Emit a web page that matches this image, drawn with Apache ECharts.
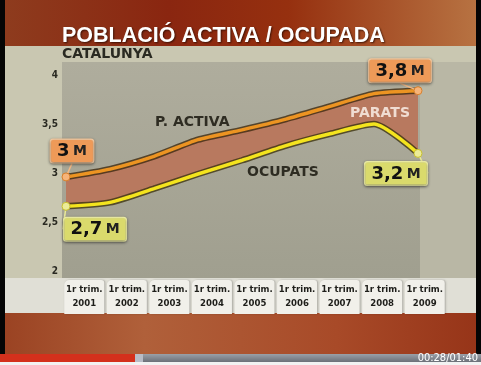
<!DOCTYPE html>
<html><head><meta charset="utf-8">
<script src="https://cdn.jsdelivr.net/npm/echarts@6/dist/echarts.min.js"></script>
<style>html,body{margin:0;padding:0;background:#000;}#c{width:481px;height:365px;}</style>
</head><body><div id="c"></div>
<script>
const categories = ['2001','2002','2003','2004','2005','2006','2007','2008','2009'];
const tabPrefix = '1r trim.';
const activa  = [2.96, 3.04, 3.17, 3.34, 3.44, 3.55, 3.68, 3.81, 3.84];
const ocupats = [2.66, 2.70, 2.84, 2.99, 3.13, 3.28, 3.40, 3.50, 3.20];
const activaEndLabels  = ['3', '3,8'];
const ocupatsEndLabels = ['2,7', '3,2'];
const yTickLabels = {'2':'2','2.5':'2,5','3':'3','3.5':'3,5','4':'4'};

const parats = activa.map((v,i)=> +(v - ocupats[i]).toFixed(3));
const last = categories.length - 1;

function endItems(arr, labels, style){
  return arr.map((v,i)=>{
    if (i === 0 || i === last) {
      const k = i === 0 ? 0 : 1;
      return { value: v, label: { show: true, formatter: '{n|' + labels[k] + '} {m|M}',
        backgroundColor: style.bg, borderColor: style.border, borderWidth: 1.5, borderRadius: 2,
        padding: [1,6,0,6], shadowBlur: 3, shadowColor: 'rgba(0,0,0,0.45)', shadowOffsetY: 1,
        rich: { n: {fontFamily:'DejaVu Sans', fontWeight:'bold', fontSize:18, color:'#111', lineHeight:21},
                m: {fontFamily:'DejaVu Sans', fontWeight:'bold', fontSize:14, color:'#222', lineHeight:21} } } };
    }
    return { value: v };
  });
}
const smoothK = 0.22;
const chart = echarts.init(document.getElementById('c'), null, {renderer:'canvas'});
const offs = { '3_0':[6,-26], '3_8':[-18,-20], '5_0':[29,23], '5_8':[-22,20] };
chart.setOption({
  animation: false,
  backgroundColor: 'transparent',
  graphic: [
    {type:'rect', z:-10, shape:{x:0,y:0,width:481,height:47}, style:{fill:new echarts.graphic.LinearGradient(0,0,1,0,[{offset:0,color:'#8e3c1e'},{offset:0.35,color:'#8a2610'},{offset:0.6,color:'#96300f'},{offset:1,color:'#b87443'}])}},
    {type:'rect', z:-10, shape:{x:0,y:46,width:481,height:233}, style:{fill:'#c9c7b1'}},
    {type:'rect', z:-9, shape:{x:62,y:62,width:358,height:216}, style:{fill:new echarts.graphic.LinearGradient(0,0,0,1,[{offset:0,color:'#afad9d'},{offset:1,color:'#a09f8f'}])}},
    {type:'rect', z:-9, shape:{x:420,y:62,width:56,height:216}, style:{fill:'#b9b7a5'}},
    {type:'rect', z:-10, shape:{x:0,y:278,width:481,height:35}, style:{fill:'#e0dfd6'}},
    {type:'rect', z:-10, shape:{x:0,y:313,width:481,height:41}, style:{fill:new echarts.graphic.LinearGradient(0,0,1,0,[{offset:0,color:'#9a4222'},{offset:0.3,color:'#b0603a'},{offset:0.7,color:'#a84a28'},{offset:1,color:'#963418'}])}},
    {type:'rect', z:-10, shape:{x:0,y:354,width:481,height:8}, style:{fill:new echarts.graphic.LinearGradient(0,0,0,1,[{offset:0,color:'#9aa0a8'},{offset:1,color:'#6c7078'}])}},
    {type:'rect', z:-9, shape:{x:0,y:354,width:135,height:8}, style:{fill:'#d4301c'}},
    {type:'rect', z:-9, shape:{x:135,y:354,width:8,height:8}, style:{fill:'#b8bcc6'}},
    {type:'rect', z:-10, shape:{x:0,y:362,width:481,height:3}, style:{fill:'#f2f2f2'}},
    {type:'rect', z:-8, shape:{x:0,y:0,width:5,height:354}, style:{fill:'#050505'}},
    {type:'rect', z:-8, shape:{x:476,y:0,width:5,height:354}, style:{fill:'#050505'}},
    {type:'text', z:5, left:62, top:25, style:{text:'POBLACIÓ ACTIVA / OCUPADA', fill:'#ffffff', font:'bold 21.5px "Liberation Sans", Arial, sans-serif', textShadowColor:'rgba(40,10,0,0.8)', textShadowBlur:2, textShadowOffsetX:1, textShadowOffsetY:1}},
    {type:'text', z:5, left:62, top:47, style:{text:'CATALUNYA', fill:'#2a2a22', font:'bold 14px "DejaVu Sans", sans-serif'}},
    {type:'text', z:5, left:155, top:115, style:{text:'P. ACTIVA', fill:'#2e2c22', font:'bold 14px "DejaVu Sans", sans-serif'}},
    {type:'text', z:5, left:247, top:165, style:{text:'OCUPATS', fill:'#2e2c22', font:'bold 14px "DejaVu Sans", sans-serif'}},
    {type:'text', z:5, left:350, top:106, style:{text:'PARATS', fill:'#f0ddd2', font:'bold 14px "DejaVu Sans", sans-serif'}},
    {type:'text', z:5, right:3, top:353, style:{text:'00:28/01:40', fill:'#ffffff', font:'11px "DejaVu Sans Condensed", sans-serif'}}
  ],
  grid: [
    {left:66, right:63, top:75, bottom:94},
    {left:63, right:35, top:279, height:1}
  ],
  xAxis: [
    {type:'category', gridIndex:0, data:categories, boundaryGap:false, axisLine:{show:false}, axisTick:{show:false}, axisLabel:{show:false}},
    {type:'category', gridIndex:1, data:categories, boundaryGap:true, position:'bottom', axisLine:{show:false}, axisTick:{show:false},
     axisLabel:{interval:0, margin:0, formatter: v => tabPrefix + '\n' + v, color:'#1e1e1a',
       fontFamily:'"DejaVu Sans Condensed", sans-serif', fontWeight:'bold', fontSize:9.5, lineHeight:14,
       backgroundColor:'#f1f0ea', borderRadius:[5,3,0,0], width:38, padding:[3,1,3,1], shadowColor:'rgba(0,0,0,0.25)', shadowBlur:2, shadowOffsetX:1, align:'center'}}
  ],
  yAxis: [
    {type:'value', gridIndex:0, min:2, max:4, interval:0.5, axisLine:{show:false}, axisTick:{show:false}, splitLine:{show:false},
     axisLabel:{margin:8, color:'#2a2a22', fontFamily:'"DejaVu Sans Condensed", sans-serif', fontWeight:'bold', fontSize:10,
       formatter: v => yTickLabels[String(v)] || String(v)}},
    {type:'value', gridIndex:1, show:false}
  ],
  series: [
    {type:'line', name:'base', stack:'p', data:ocupats, smooth:smoothK, symbol:'none', lineStyle:{width:0, opacity:0}, silent:true, z:1},
    {type:'line', name:'Parats', stack:'p', data:parats, smooth:smoothK, symbol:'none', lineStyle:{width:0, opacity:0}, areaStyle:{color:'#b8795f', opacity:1}, silent:true, z:1},
    {type:'line', name:'activaOutline', data:activa, smooth:smoothK, symbol:'none', lineStyle:{color:'#3e2a10', width:6.5, opacity:0.8}, z:2},
    {type:'line', name:'P. activa', data:endItems(activa, activaEndLabels, {bg:'#ee9a58', border:'#f8cba0'}), smooth:smoothK,
     symbol:'circle', symbolSize:(v,p)=> (p.dataIndex===0||p.dataIndex===last)?8:0, showAllSymbol:true,
     itemStyle:{color:'#f6b47a', borderColor:'#d8802c', borderWidth:1},
     lineStyle:{color:'#ec9422', width:3.5}, label:{show:false, position:'inside'},
     labelLine:{show:true, lineStyle:{color:'#f3b884', width:1.5}},
     labelLayout: p => { const o = offs['3_' + p.dataIndex]; return o ? {dx:o[0], dy:o[1]} : {}; }, z:3},
    {type:'line', name:'ocupOutline', data:ocupats, smooth:smoothK, symbol:'none', lineStyle:{color:'#3e3410', width:6.5, opacity:0.8}, z:2},
    {type:'line', name:'Ocupats', data:endItems(ocupats, ocupatsEndLabels, {bg:'#dada6c', border:'#f2f2a8'}), smooth:smoothK,
     symbol:'circle', symbolSize:(v,p)=> (p.dataIndex===0||p.dataIndex===last)?8:0, showAllSymbol:true,
     itemStyle:{color:'#ecec98', borderColor:'#c8c030', borderWidth:1},
     lineStyle:{color:'#f4e41e', width:3.5}, label:{show:false, position:'inside'},
     labelLine:{show:true, lineStyle:{color:'#eaea9a', width:1.5}},
     labelLayout: p => { const o = offs['5_' + p.dataIndex]; return o ? {dx:o[0], dy:o[1]} : {}; }, z:3}
  ]
});
</script></body></html>
